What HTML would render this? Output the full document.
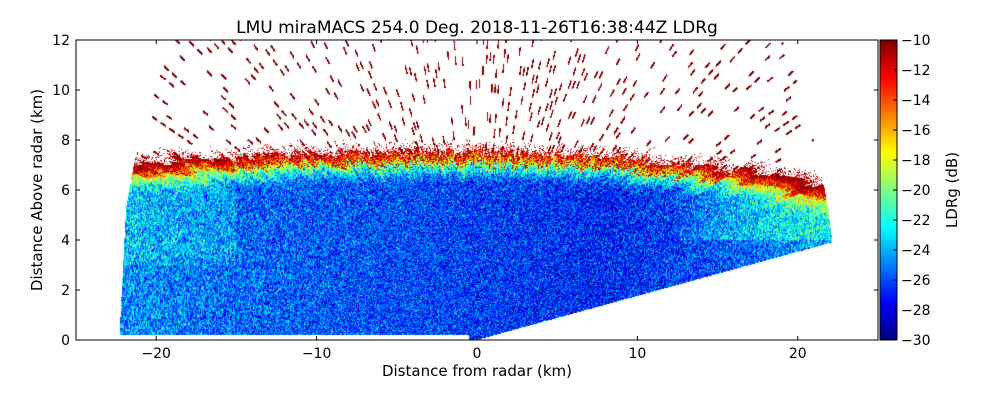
<!DOCTYPE html>
<html><head><meta charset="utf-8">
<style>
body{margin:0;background:#fff;width:1000px;height:400px;overflow:hidden;font-family:"Liberation Sans","DejaVu Sans",sans-serif}
svg text{font-family:"DejaVu Sans","Liberation Sans",sans-serif}
</style></head>
<body>
<div style="position:relative;width:1000px;height:400px">
<canvas id="cv" width="802" height="300" style="position:absolute;left:76px;top:40px"></canvas>
<canvas id="cb" width="17" height="300" style="position:absolute;left:880px;top:40px"></canvas>
<svg id="ax" width="1000" height="400" style="position:absolute;left:0;top:0"></svg>
</div>
<script>
const xTicks=[-20,-10,0,10,20];
const yTicks=[0,2,4,6,8,10,12];
const cTicks=[-10,-12,-14,-16,-18,-20,-22,-24,-26,-28,-30];
const topX=[-22,-15,-8,0,8,15,22];
const topH=[7.1,7.3,7.5,7.5,7.3,6.9,6.2];
const baseX=[-22,-15,-8,0,8,15,22];
const baseV=[-24.5,-25.5,-26,-26.5,-27,-26,-24];
const maxRange=22.5, minElevDeg=10;
const X0=76,X1=878,Y0=40,Y1=340;
const sx=v=>X0+(v+25)/50*(X1-X0), sy=v=>Y1-v/12*(Y1-Y0);
function jet(t){t=Math.max(0,Math.min(1,t));
 const r=Math.min(4*t-1.5,-4*t+4.5),g=Math.min(4*t-0.5,-4*t+3.5),b=Math.min(4*t+0.5,-4*t+2.5);
 const c=v=>Math.round(255*Math.max(0,Math.min(1,v)));return [c(r),c(g),c(b)];}
function hash(a,b){let h=(a*374761393+b*668265263)^0x5bd1e995;h=(h^(h>>>13))*1274126177;h=h^(h>>>16);return ((h>>>0)%100000)/100000;}
function interp(xs,ys,x){for(let i=0;i<xs.length-1;i++){if(x<=xs[i+1]){const f=Math.max(0,(x-xs[i])/(xs[i+1]-xs[i]));return ys[i]+f*(ys[i+1]-ys[i]);}}return ys[ys.length-1];}
const cv=document.getElementById('cv'),ctx=cv.getContext('2d');
const W=cv.width,H=cv.height,img=ctx.createImageData(W,H);
for(let py=0;py<H;py++)for(let px=0;px<W;px++){
 const x=(px+0.5)/W*50-25,y=(1-(py+0.5)/H)*12;
 const r=Math.hypot(x,y),th=Math.atan2(y,x)*180/Math.PI;
 if(r>maxRange||th<minElevDeg||r<0.05)continue;
 if(y<0.2&&x<-0.5)continue;
 if(x<-22.3+0.08*y)continue;
 const ab=Math.floor(th/0.3),rb=Math.floor(r/0.05);
 const n=hash(ab,rb),n2=hash(px,py);
 const tp=interp(topX,topH,x)+(hash(Math.floor(th/0.6),7)-0.5)*0.4;let v=null;
 if(y<tp){
  let base=interp(baseX,baseV,x);
  if(x>12&&y>4)base+=2*Math.min(1,(x-12)/4);
  if(x<-15&&y>3)base+=1;
  const d=tp-y;
  if(d<1.3)base+=Math.pow((1.3-d)/1.3,1.6)*14;
  v=base+(n-0.5)*5+(n2-0.5)*4;
  if(d<0.5&&n2<0.35)v=-11;
 }else{
  const dd=y-tp;
  if(dd<0.45&&n2<0.45*(1-dd/0.45))v=-11+(n-0.5)*3;
  else{
   const bw=1.1,ai=Math.round(th/bw),ang=Math.abs(th-ai*bw)*Math.PI/180*r;
   const off=hash(ai,99)*0.6,rb2=Math.floor((r+off)/0.6),fr=((r+off)/0.6)%1;
   if(ang<0.045&&hash(ai,rb2)<0.3&&fr<0.6)v=-10;
  }
 }
 if(v===null)continue;
 const c=jet((v+30)/20),k=(py*W+px)*4;
 img.data[k]=c[0];img.data[k+1]=c[1];img.data[k+2]=c[2];img.data[k+3]=255;
}
ctx.putImageData(img,0,0);
const cb=document.getElementById('cb').getContext('2d');
for(let i=0;i<300;i++){const c=jet(1-i/299);cb.fillStyle=`rgb(${c})`;cb.fillRect(0,i,17,1);}
const svg=document.getElementById('ax');const NS='http://www.w3.org/2000/svg';
function el(t,a,txt){const e=document.createElementNS(NS,t);for(const k in a)e.setAttribute(k,a[k]);if(txt!==undefined)e.textContent=txt;svg.appendChild(e);return e;}
let e=el('rect',{x:X0,y:Y0,width:X1-X0,height:Y1-Y0,fill:'none',stroke:'#000','stroke-width':1});

e=el('rect',{x:880,y:40,width:17,height:300,fill:'none',stroke:'#000','stroke-width':1});

xTicks.forEach(v=>{const x=sx(v);
 el('line',{x1:x,x2:x,y1:Y1,y2:Y1-4,stroke:'#000'});el('line',{x1:x,x2:x,y1:Y0,y2:Y0+4,stroke:'#000'});
 e=el('text',{x:x,y:358,'text-anchor':'middle','font-size':14},v<0?'\u2212'+(-v):v);
 });
yTicks.forEach(v=>{const y=sy(v);
 el('line',{x1:X0,x2:X0+4,y1:y,y2:y,stroke:'#000'});el('line',{x1:X1,x2:X1-4,y1:y,y2:y,stroke:'#000'});
 e=el('text',{x:70,y:y+5,'text-anchor':'end','font-size':14},v);
 });
cTicks.forEach(v=>{const y=40+(-10-v)/20*300;
 el('line',{x1:893,x2:897,y1:y,y2:y,stroke:'#000'});
 e=el('text',{x:901,y:y+5,'font-size':14},'\u2212'+(-v));
 });
e=el('text',{x:477,y:33,'text-anchor':'middle','font-size':17},'LMU miraMACS 254.0 Deg. 2018-11-26T16:38:44Z  LDRg');

e=el('text',{x:477,y:376,'text-anchor':'middle','font-size':15},'Distance from radar (km)');

e=el('text',{x:42,y:190,'text-anchor':'middle','font-size':15,transform:'rotate(-90 42 190)'},'Distance Above radar  (km)');

e=el('text',{x:957,y:190,'text-anchor':'middle','font-size':15,transform:'rotate(-90 957 190)'},'LDRg (dB)');

</script>
</body></html>
